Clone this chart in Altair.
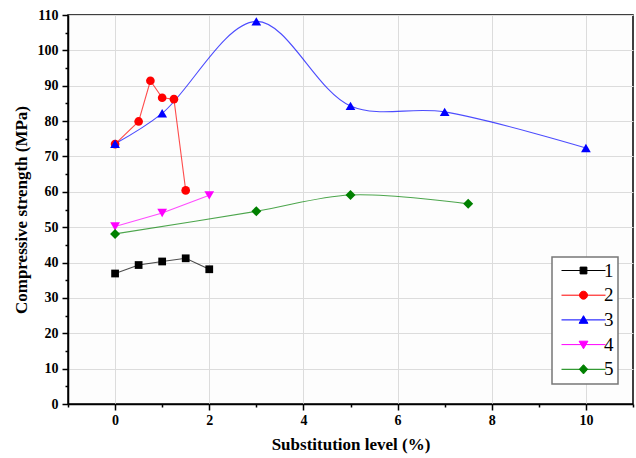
import altair as alt
import pandas as pd

# ---- data ----
series_names = ["1", "2", "3", "4", "5"]
s1_x = [0, 0.5, 1, 1.5, 2]
s1_y = [36.9, 39.3, 40.3, 41.2, 38.1]
s2_x = [0, 0.5, 0.75, 1, 1.25, 1.5]
s2_y = [73.5, 79.9, 91.4, 86.6, 86.2, 60.4]
s3_x = [0, 1, 3, 5, 7, 10]
s3_y = [73.6, 82.2, 108.2, 84.3, 82.6, 72.4]
s4_x = [0, 1, 2]
s4_y = [50.2, 54.0, 59.0]
s5_x = [0, 3, 5, 7.5]
s5_y = [48.1, 54.5, 59.1, 56.6]

colors = ["#000000", "#ff0000", "#0000ff", "#ff00ff", "#008000"]
shapes = ["square", "circle", "triangle-up", "triangle-down", "diamond"]
sizes = [60, 75, 95, 95, 100]
interps = ["linear", "linear", "catmull-rom", "linear", "catmull-rom"]

rows = []
for name, xs, ys in zip(series_names, [s1_x, s2_x, s3_x, s4_x, s5_x], [s1_y, s2_y, s3_y, s4_y, s5_y]):
    for i, (xv, yv) in enumerate(zip(xs, ys)):
        rows.append({"series": name, "x": xv, "y": yv, "order": i})
df = pd.DataFrame(rows)

# legend symbols: a line segment with the marker in the middle
m = 0.85
legend_paths = [
    f"M-5.5,0H5.5M-{m},-{m}H{m}V{m}H-{m}Z",
    "M-5.5,0H5.5M0,-1A1,1,0,1,1,0,1A1,1,0,1,1,0,-1Z",
    "M-5.5,0H5.5M0,-1.05L1.1,0.85H-1.1Z",
    "M-5.5,0H5.5M0,1.05L1.1,-0.85H-1.1Z",
    "M-5.5,0H5.5M0,-1.15L1.05,0L0,1.15L-1.05,0Z",
]

FONT = "'Liberation Serif', 'Times New Roman', serif"

x_scale = alt.Scale(domain=[-1, 11], nice=False, zero=False)
y_scale = alt.Scale(domain=[0, 110], nice=False, zero=False)

x_axis = alt.Axis(
    title="Substitution level (%)",
    values=list(range(-1, 12)),
    labelExpr="datum.value % 2 == 0 ? datum.label : ''",
    tickSize={"condition": {"test": "datum.value % 2 != 0", "value": 3}, "value": 6},
    gridOpacity={"condition": {"test": "datum.value % 2 != 0", "value": 0}, "value": 1},
    grid=True,
    labelOverlap=False,
    labelFlush=False,
    labelPadding=3,
    titlePadding=9,
)
y_axis = alt.Axis(
    title="Compressive strength (MPa)",
    values=list(range(0, 111, 5)),
    labelExpr="datum.value % 10 == 0 ? datum.label : ''",
    tickSize={"condition": {"test": "datum.value % 10 != 0", "value": 3}, "value": 6},
    gridOpacity={"condition": {"test": "datum.value % 10 != 0", "value": 0}, "value": 1},
    grid=True,
    labelOverlap=False,
    labelFlush=False,
    labelPadding=4,
    titlePadding=7,
)

X = alt.X("x:Q", scale=x_scale, axis=x_axis)
Y = alt.Y("y:Q", scale=y_scale, axis=y_axis)

base = alt.Chart(df)

line_layers = []
point_layers = []
for name, col, shp, sz, ip in zip(series_names, colors, shapes, sizes, interps):
    sub = base.transform_filter(alt.datum.series == name)
    line_layers.append(
        sub.mark_line(color=col, strokeWidth=1.1, opacity=0.7, interpolate=ip)
        .encode(x=X, y=Y, order="order:Q")
    )
    point_layers.append(
        sub.mark_point(filled=True, opacity=1, size=sz, shape=shp, color=col)
        .encode(x=X, y=Y)
    )

def make_legend():
    return alt.Legend(
        title=None,
        orient="none",
        legendX=484,
        legendY=242,
        symbolSize=64,
        symbolStrokeWidth=1,
        symbolOpacity=1,
        symbolOffset=18,
        labelOffset=11,
        labelFont=FONT,
        labelFontSize=19,
        labelColor="#000000",
        rowPadding=4.7,
        padding=4,
        strokeColor="#777777",
        fillColor="#ffffff",
    )

legend_layer = base.mark_point(filled=True, size=64, opacity=0).encode(
    x=X,
    y=Y,
    fill=alt.Fill("series:N", scale=alt.Scale(domain=series_names, range=colors), legend=make_legend()),
    stroke=alt.Stroke("series:N", scale=alt.Scale(domain=series_names, range=colors), legend=make_legend()),
    shape=alt.Shape("series:N", scale=alt.Scale(domain=series_names, range=legend_paths), legend=make_legend()),
)

chart = alt.layer(*line_layers, *point_layers, legend_layer).properties(
    width=565,
    height=389,
    autosize=alt.AutoSizeParams(type="none"),
    padding={"left": 68, "top": 15, "right": 3, "bottom": 54},
).configure(
    font=FONT,
).configure_view(
    stroke="#000000",
    strokeWidth=1.5,
    fill="#fdfdfd",
).configure_axis(
    domainColor="#000000",
    domainWidth=1.5,
    tickColor="#000000",
    tickWidth=1.5,
    gridColor="#dcdcdc",
    gridWidth=1,
    labelFont=FONT,
    labelFontSize=14,
    labelFontWeight="bold",
    labelColor="#000000",
    titleFont=FONT,
    titleFontSize=17,
    titleFontWeight="bold",
    titleColor="#000000",
).configure_legend(
    strokeWidth=1.5,
)

chart.save("out.html", embed_options={"renderer": "svg", "actions": False})
